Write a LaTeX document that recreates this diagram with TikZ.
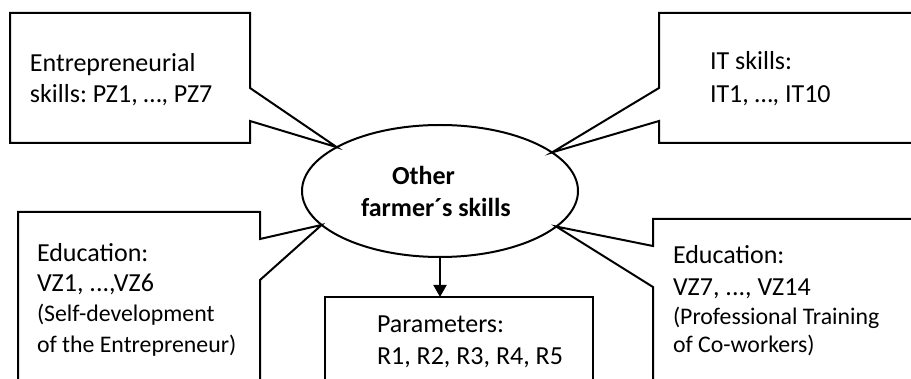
\documentclass[tikz,border=0pt]{standalone}
\usepackage{fontspec}
\setmainfont{Carlito}
\usetikzlibrary{shapes.geometric,arrows.meta}
\frenchspacing
\begin{document}
\begin{tikzpicture}[x=1pt,y=-1pt,line width=2pt,line join=miter,
  every node/.style={inner sep=0pt,outer sep=0pt},
  txt/.style={anchor=base west,font=\fontsize{26}{31}\selectfont},
  smalltxt/.style={anchor=base west,font=\fontsize{23.8}{29}\selectfont},
  boldtxt/.style={anchor=base west,font=\fontsize{26}{31}\selectfont\bfseries},
  callout/.style={draw,fill=white},
  arr/.style={-{Triangle[length=12pt,width=13pt]}}]
\useasboundingbox (0,0) rectangle (911,379);
\clip (0,0) rectangle (911,379);
% central ellipse
\node[ellipse,draw,minimum width=276pt,minimum height=132pt] (core) at (440,191) {};
\coordinate (tipTL) at (core.157.7);
\coordinate (tipTR) at (core.19.2);
\coordinate (tipBL) at (core.196);
\coordinate (tipBR) at (core.343.5);
% callouts
\draw[callout] (10,13) -- (250,13) -- (250,88) -- (tipTL) -- (250,121) -- (250,143) -- (10,143) -- cycle;
\draw[callout] (915,13) -- (659,13) -- (659,88) -- (tipTR) -- (659,121) -- (659,143) -- (915,143);
\draw[callout] (18,390) -- (18,212) -- (260,212) -- (260,239) -- (tipBL) -- (260,280) -- (260,390);
\draw[callout] (653,390) -- (653,287) -- (tipBR) -- (653,246) -- (653,219) -- (915,219);
% parameters box
\node[draw,anchor=north west,minimum width=268pt,minimum height=100pt] (params) at (325,297) {};
\draw[arr] (core.south) -- (params.north -| core.south);
% texts
\node[txt] (t1a) at (30,72) {Entrepreneurial};
\node[txt] (t1b) at (30,103) {skills: PZ1, …, PZ7};
\node[txt] (t2a) at (710,70) {IT skills:};
\node[txt] (t2b) at (710,103) {IT1, …, IT10};
\node[txt] (t3a) at (37,262) {Education:};
\node[txt] (t3b) at (37,292) {VZ1, ...,VZ6};
\node[smalltxt] (t3c) at (37,322) {(Self-development};
\node[smalltxt] (t3d) at (37,353) {of the Entrepreneur)};
\node[txt] (t4a) at (673,264) {Education:};
\node[txt] (t4b) at (673,296) {VZ7, ..., VZ14};
\node[smalltxt] (t4c) at (673,325) {(Professional Training};
\node[smalltxt] (t4d) at (673,353) {of Co-workers)};
\node[boldtxt] (c1) at (392,185) {Other};
\node[boldtxt] (c2) at (361,217) {farmer´s skills};
\node[txt] (p1) at (377,333) {Parameters:};
\node[txt] (p2) at (377,365) {R1, R2, R3, R4, R5};
\end{tikzpicture}
\end{document}
